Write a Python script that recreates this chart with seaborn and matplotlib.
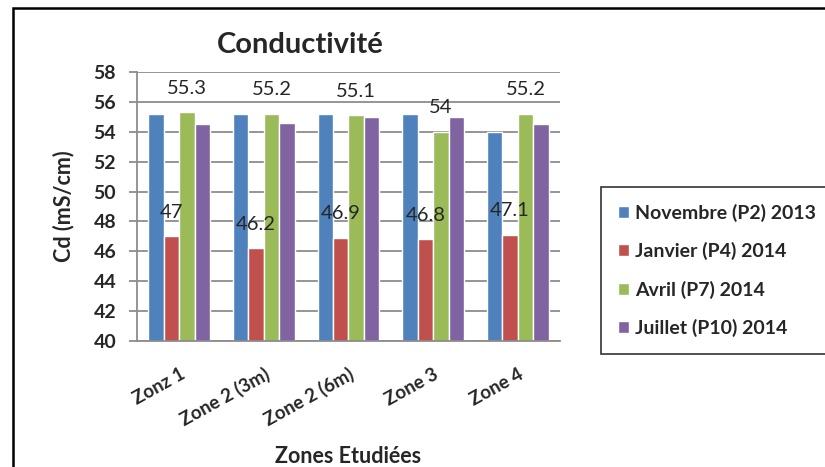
import numpy as np
import pandas as pd
import seaborn as sns
import matplotlib
matplotlib.use('Agg')
import matplotlib.pyplot as plt
from matplotlib.patches import Rectangle

# values
zones = ['Zonz 1', 'Zone 2 (3m)', 'Zone 2 (6m)', 'Zone 3', 'Zone 4']
periods = ['Novembre (P2) 2013', 'Janvier (P4) 2014', 'Avril (P7) 2014', 'Juillet (P10) 2014']
novembre = [55.2, 55.2, 55.2, 55.2, 54.0]
janvier = [47, 46.2, 46.9, 46.8, 47.1]
avril = [55.3, 55.2, 55.1, 54, 55.2]
juillet = [54.5, 54.6, 55.0, 55.0, 54.5]
colors = ['#4F81BD', '#C0504D', '#9BBB59', '#8064A2']

rows = []
for p, vals in zip(periods, [novembre, janvier, avril, juillet]):
    for z, v in zip(zones, vals):
        rows.append({'zone': z, 'period': p, 'cd': v})
df = pd.DataFrame(rows)

sns.set_style('white')
plt.rcParams['font.family'] = ['Lato', 'DejaVu Sans']

fig = plt.figure(figsize=(8.25, 4.67), dpi=100)
ax = fig.add_axes([137/825, 126/467, (560-137)/825, (341-72)/467])

sns.barplot(data=df, x='zone', y='cd', hue='period', palette=colors,
            width=0.73, gap=0, saturation=1, ax=ax, errorbar=None)

ax.set_ylim(40, 58)
ax.set_yticks(np.arange(40, 59, 2))
ax.yaxis.grid(True, color='#8c8c8c', linewidth=1.3)
ax.set_axisbelow(True)
for s in ['top', 'right']:
    ax.spines[s].set_visible(False)
for s in ['left', 'bottom']:
    ax.spines[s].set_color('#8c8c8c')
    ax.spines[s].set_linewidth(1.3)
ax.tick_params(axis='y', left=True, length=6, color='#8c8c8c', width=1.3,
               labelsize=14, pad=9)
ax.tick_params(axis='x', bottom=False, labelsize=13.5, pad=14)
for lab in ax.get_yticklabels():
    lab.set_fontweight('bold')
plt.setp(ax.get_xticklabels(), rotation=29, ha='right',
         rotation_mode='anchor', fontweight='bold')

ax.set_ylabel('Cd (mS/cm)', fontsize=15.5, fontweight='bold', labelpad=14)
ax.set_xlabel('Zones Etudiées', fontsize=15.5, fontweight='bold', labelpad=12)
fig.text(300/825, 1 - 45/467, 'Conductivité', fontsize=21, fontweight='bold',
         ha='center', va='center')

# data labels for Janvier and Avril, above the bars
for cont, vals in [(ax.containers[1], janvier), (ax.containers[2], avril)]:
    for bar, v in zip(cont, vals):
        ax.text(bar.get_x() + bar.get_width() / 2, v + 1.6, f'{v:g}',
                ha='center', va='center', fontsize=14.5)

leg = ax.legend(loc='upper left', bbox_to_anchor=(601/825, 1 - 187/467),
                bbox_transform=fig.transFigure, frameon=True, fancybox=False,
                edgecolor='black', prop={'weight': 'bold', 'size': 14},
                handlelength=0.6, handleheight=0.6, handletextpad=0.3,
                labelspacing=1.05, borderpad=0.85, borderaxespad=0)
leg.get_frame().set_linewidth(1.2)

# outer chart frame (cropped at right and bottom)
fig.patches.append(Rectangle((13/825, -0.1), 1.2, 1 - 8/467 + 0.1,
                             transform=fig.transFigure, fill=False,
                             edgecolor='black', linewidth=1.8))

fig.savefig('out.png', dpi=100)
